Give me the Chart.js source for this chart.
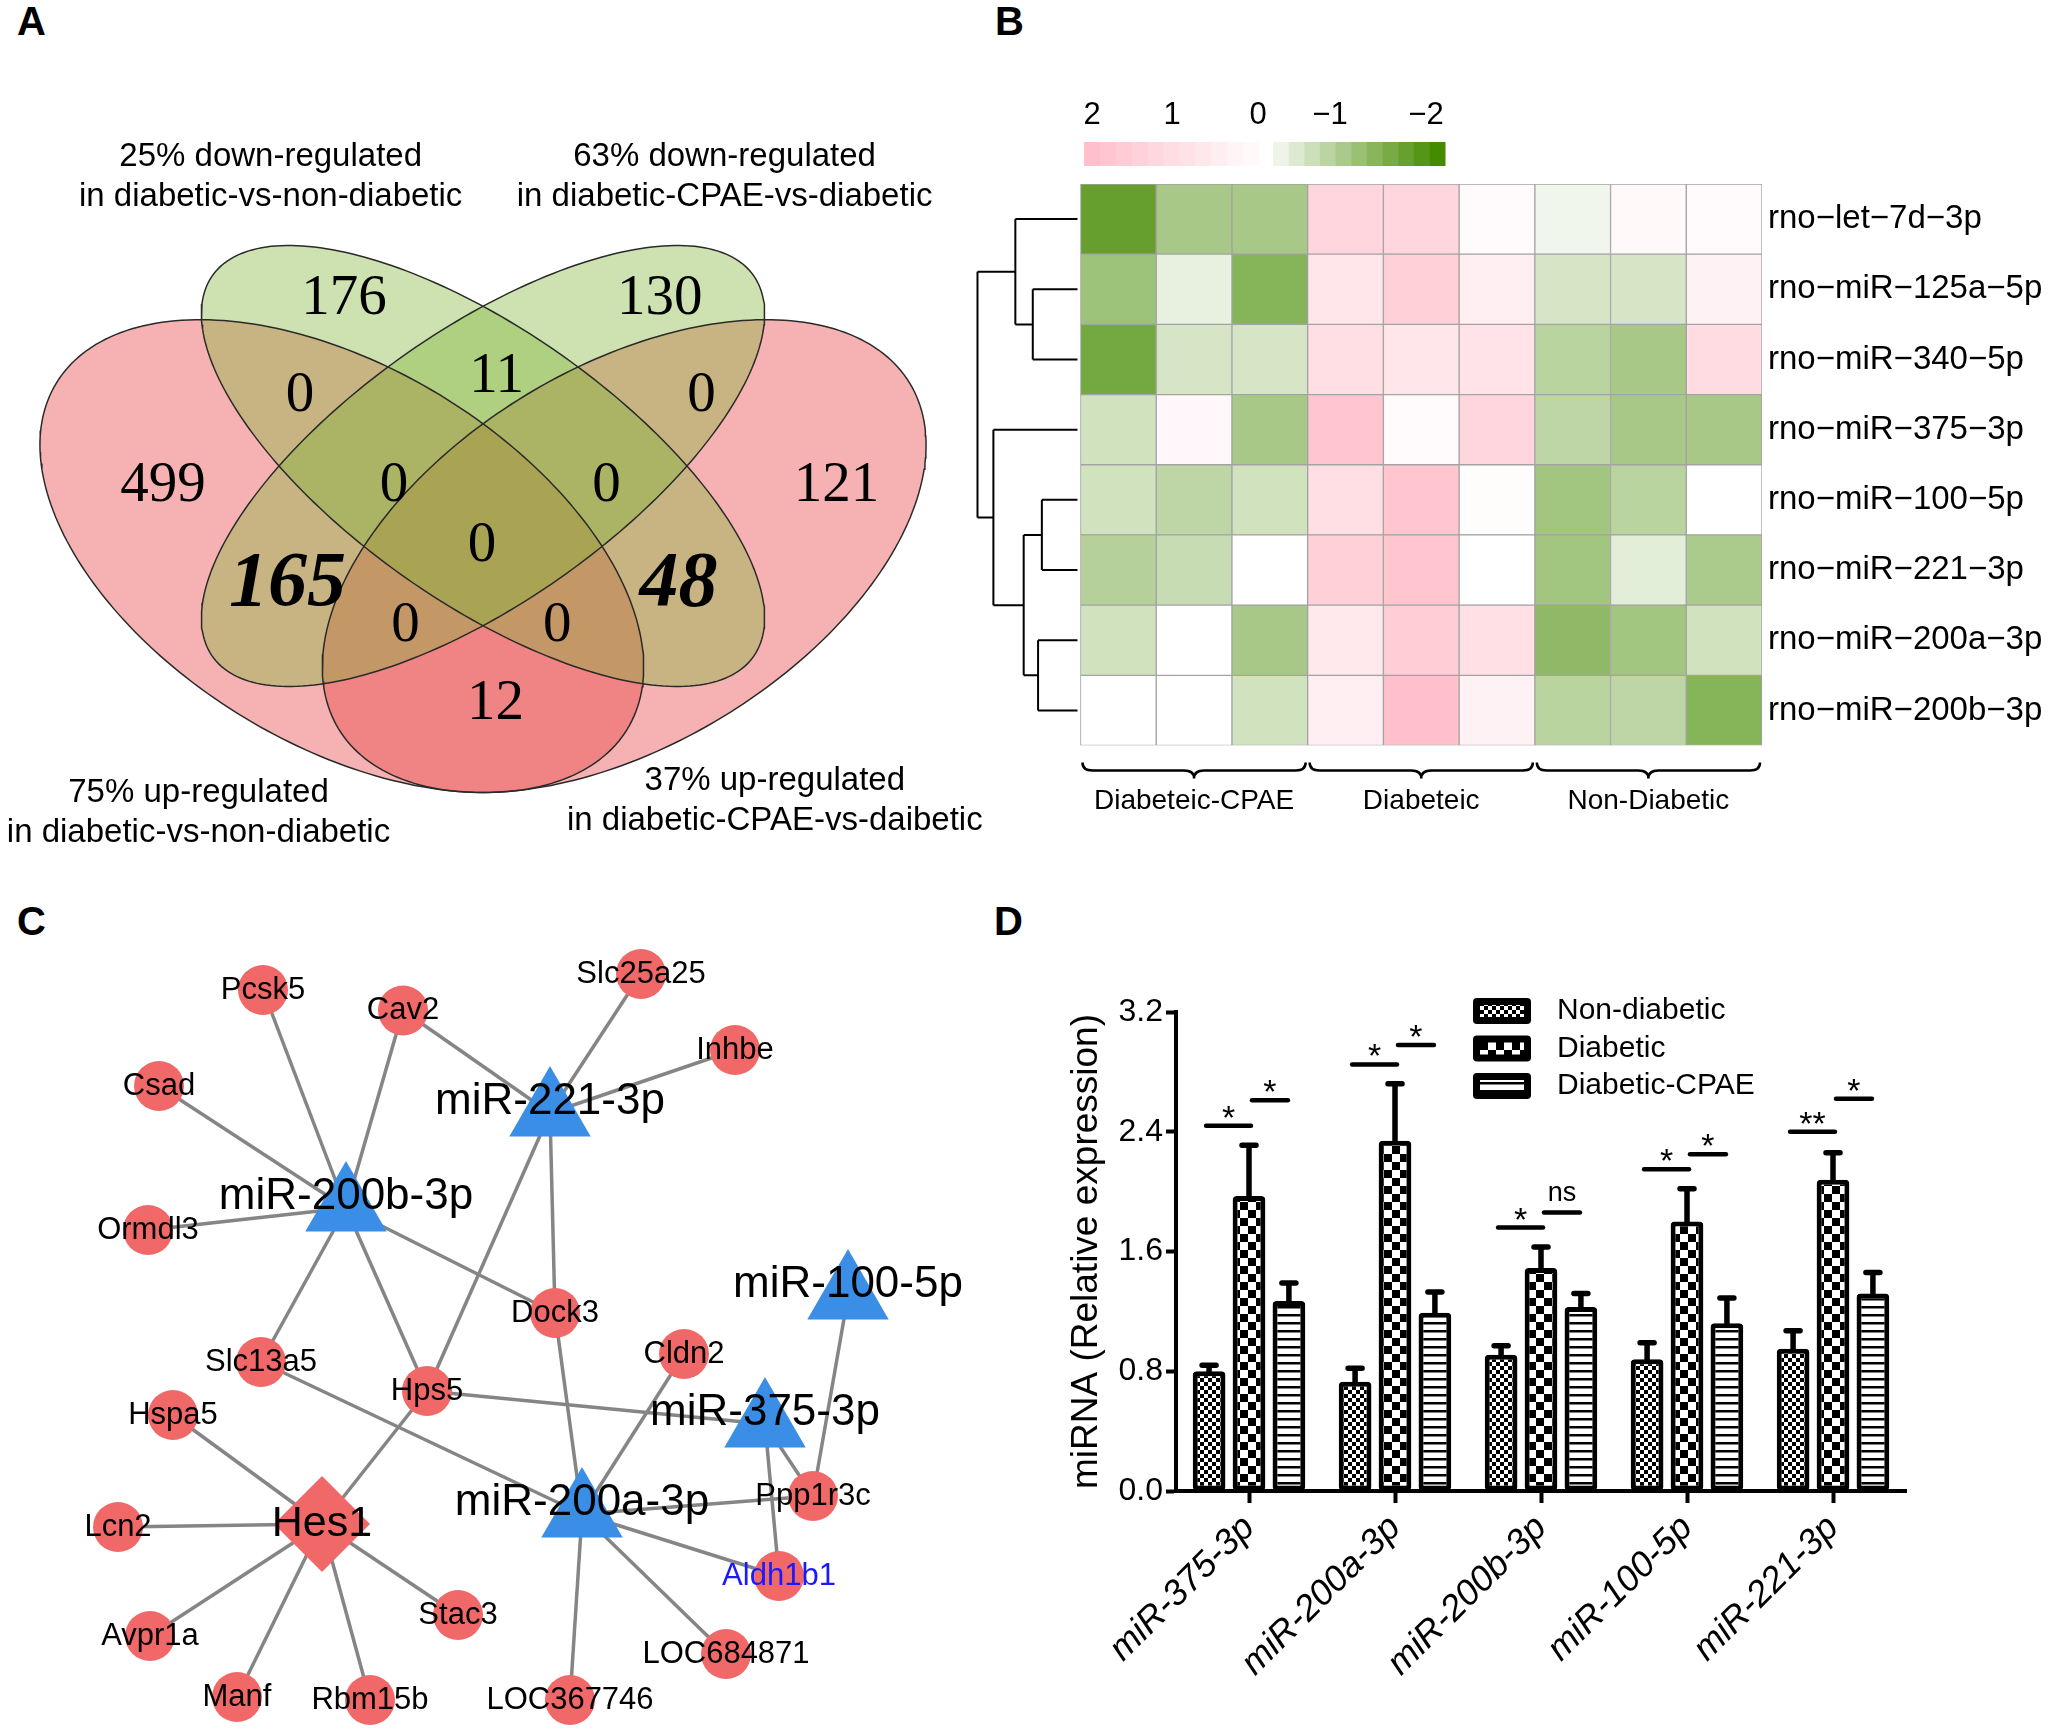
<!DOCTYPE html>
<html>
<head>
<meta charset="utf-8">
<title>miRNA figure</title>
<script src="https://cdn.jsdelivr.net/npm/chart.js@4/dist/chart.umd.min.js"></script>
<style>
  html, body { margin: 0; padding: 0; background: #fff; }
  body { width: 2052px; height: 1733px; position: relative; overflow: hidden; font-family: "Liberation Sans", Arial, sans-serif; }
  canvas { position: absolute; }
  .tag { position: absolute; font-size: 40px; font-weight: bold; line-height: 40px; }
</style>
</head>
<body>
<div class="tag" style="left:17px;top:1px">A</div>
<div class="tag" style="left:995px;top:1px">B</div>
<div class="tag" style="left:17px;top:901px">C</div>
<div class="tag" style="left:994px;top:901px">D</div>
<canvas id="venn" width="1000" height="840" style="left:0;top:60px"></canvas>
<canvas id="heat" width="1092" height="800" style="left:960px;top:60px"></canvas>
<canvas id="net" width="1000" height="813" style="left:0;top:920px"></canvas>
<canvas id="bars" width="1052" height="803" style="left:1000px;top:930px"></canvas>
<script>
const SANS = '"Liberation Sans", Arial, sans-serif';
const SERIF = '"Liberation Serif", "Times New Roman", serif';
Chart.defaults.font.family = SANS;
Chart.defaults.color = '#000';
Chart.defaults.animation = false;

// ---------- A: venn (A = up d-vs-nd, B = down d-vs-nd, C = down cpae-vs-d, D = up cpae-vs-d)
const vennRegions = ['A', 'B', 'C', 'D', 'AB', 'BC', 'CD', 'AD', 'ABC', 'BCD', 'AC', 'BD', 'ABCD', 'ACD', 'ABD'];
const vennCounts  = [499, 176, 130, 121, 0, 11, 0, 12, 0, 0, 165, 48, 0, 0, 0];
const vennBold = ['AC', 'BD'];
const vennTitles = [
  ['25% down-regulated', 'in diabetic-vs-non-diabetic'],
  ['63% down-regulated', 'in diabetic-CPAE-vs-diabetic'],
  ['75% up-regulated', 'in diabetic-vs-non-diabetic'],
  ['37% up-regulated', 'in diabetic-CPAE-vs-daibetic']
];

// ---------- B: heatmap
const heatRows = ['rno−let−7d−3p', 'rno−miR−125a−5p', 'rno−miR−340−5p', 'rno−miR−375−3p',
                  'rno−miR−100−5p', 'rno−miR−221−3p', 'rno−miR−200a−3p', 'rno−miR−200b−3p'];
const heatGroups = ['Diabeteic-CPAE', 'Diabeteic', 'Non-Diabetic'];
const heatValues = [
  [-1.65, -0.95, -0.95, 1.3, 1.3, 0.15, -0.15, 0.2, 0.15],
  [-1.05, -0.25, -1.3, 0.8, 1.5, 0.5, -0.45, -0.45, 0.4],
  [-1.5, -0.45, -0.45, 1.05, 0.8, 0.9, -0.75, -0.95, 1.1],
  [-0.5, 0.25, -0.95, 1.8, 0.15, 1.3, -0.7, -0.95, -0.95],
  [-0.5, -0.7, -0.5, 1.05, 1.8, 0.1, -1.0, -0.75, 0.0],
  [-0.8, -0.6, 0.0, 1.5, 1.8, 0.0, -1.0, -0.3, -0.9],
  [-0.5, 0.0, -0.95, 0.7, 1.6, 1.0, -1.2, -1.0, -0.5],
  [0.0, 0.0, -0.5, 0.5, 2.0, 0.4, -0.75, -0.7, -1.3]
];
// row clustering, hclust style: negative = leaf (1-based row), positive = earlier merge
const dendroMerges = [[-2, -3], [-1, 1], [-5, -6], [-7, -8], [3, 4], [-4, 5], [2, 6]];
const dendroHeights = [0.63, 0.86, 0.51, 0.56, 0.75, 1.15, 1.36];
const keyLabels = ['2', '1', '0', '−1', '−2'];

// ---------- C: network
const nodeNames = ['Pcsk5', 'Cav2', 'Slc25a25', 'Inhbe', 'Csad', 'miR-221-3p', 'miR-200b-3p', 'Ormdl3',
  'Dock3', 'miR-100-5p', 'Cldn2', 'Slc13a5', 'Hps5', 'miR-375-3p', 'Hspa5', 'Hes1', 'miR-200a-3p',
  'Ppp1r3c', 'Lcn2', 'Aldh1b1', 'Stac3', 'Avpr1a', 'LOC684871', 'Manf', 'Rbm15b', 'LOC367746'];
const nodeKind = ['gene', 'gene', 'gene', 'gene', 'gene', 'mirna', 'mirna', 'gene',
  'gene', 'mirna', 'gene', 'gene', 'gene', 'mirna', 'gene', 'hub', 'mirna',
  'gene', 'gene', 'gene', 'gene', 'gene', 'gene', 'gene', 'gene', 'gene'];
const nodeX = [26.3, 40.3, 64.1, 73.5, 15.9, 55.0, 34.6, 14.8, 55.5, 84.8, 68.4, 26.1, 42.7, 76.5, 17.3,
  32.2, 58.2, 81.3, 11.8, 77.9, 45.8, 15.0, 72.6, 23.7, 37.0, 57.0];
const nodeY = [99.0, 101.05, 97.4, 105.0, 108.6, 111.3, 120.8, 123.0, 131.3, 129.6, 135.4, 136.2, 139.1, 142.4,
  141.5, 152.4, 151.4, 149.6, 152.7, 157.6, 161.5, 163.6, 165.4, 169.7, 170.0, 170.0];
const edges = [
  ['miR-200b-3p', 'Pcsk5'], ['miR-200b-3p', 'Cav2'], ['miR-200b-3p', 'Csad'], ['miR-200b-3p', 'Ormdl3'],
  ['miR-200b-3p', 'Dock3'], ['miR-200b-3p', 'Slc13a5'], ['miR-200b-3p', 'Hps5'],
  ['miR-221-3p', 'Cav2'], ['miR-221-3p', 'Slc25a25'], ['miR-221-3p', 'Inhbe'], ['miR-221-3p', 'Dock3'], ['miR-221-3p', 'Hps5'],
  ['miR-200a-3p', 'Dock3'], ['miR-200a-3p', 'Slc13a5'], ['miR-200a-3p', 'Cldn2'], ['miR-200a-3p', 'Ppp1r3c'],
  ['miR-200a-3p', 'Aldh1b1'], ['miR-200a-3p', 'LOC684871'], ['miR-200a-3p', 'LOC367746'],
  ['miR-375-3p', 'Hps5'], ['miR-375-3p', 'Ppp1r3c'], ['miR-375-3p', 'Aldh1b1'],
  ['miR-100-5p', 'Ppp1r3c'],
  ['Hes1', 'Hps5'], ['Hes1', 'Hspa5'], ['Hes1', 'Lcn2'], ['Hes1', 'Avpr1a'], ['Hes1', 'Manf'], ['Hes1', 'Rbm15b'], ['Hes1', 'Stac3']
];

// ---------- D: qPCR bars
const mirnas = ['miR-375-3p', 'miR-200a-3p', 'miR-200b-3p', 'miR-100-5p', 'miR-221-3p'];
const nonDiabetic = [0.80, 0.73, 0.91, 0.88, 0.95];
const nonDiabeticSem = [0.04, 0.09, 0.06, 0.11, 0.12];
const diabetic = [1.97, 2.34, 1.49, 1.80, 2.08];
const diabeticSem = [0.34, 0.38, 0.14, 0.22, 0.18];
const diabeticCpae = [1.27, 1.19, 1.23, 1.12, 1.32];
const diabeticCpaeSem = [0.12, 0.14, 0.09, 0.17, 0.14];
const sigGroup = [0, 0, 1, 1, 2, 2, 3, 3, 4, 4];
const sigFrom  = [0, 1, 0, 1, 0, 1, 0, 1, 0, 1];
const sigLevel = [2.44, 2.61, 2.85, 2.98, 1.76, 1.86, 2.15, 2.25, 2.40, 2.62];
const sigMark  = ['*', '*', '*', '*', '*', 'ns', '*', '*', '**', '*'];

// ======================= A =======================
const PINK = 'rgba(232,62,62,0.4)', GREEN = 'rgba(131,183,58,0.4)';
const vennShapes = {
  A: { cx: 0.365, cy: 0.46, a: 0.35, b: 0.21, rot: -45, fill: PINK },
  B: { cx: 0.50, cy: 0.57, a: 0.35, b: 0.15, rot: -45, fill: GREEN },
  C: { cx: 0.50, cy: 0.57, a: 0.35, b: 0.15, rot: 45, fill: GREEN },
  D: { cx: 0.635, cy: 0.46, a: 0.35, b: 0.21, rot: 45, fill: PINK }
};
const vennLabelAt = {
  A: [0.194, 0.546], B: [0.367, 0.774], C: [0.669, 0.774], D: [0.838, 0.546],
  AB: [0.325, 0.655], BC: [0.513, 0.679], CD: [0.709, 0.655], AD: [0.512, 0.279],
  ABC: [0.415, 0.546], BCD: [0.618, 0.546], AC: [0.313, 0.425], BD: [0.687, 0.425],
  ABCD: [0.499, 0.472], ACD: [0.426, 0.375], ABD: [0.571, 0.375]
};
const vennTitleAt = [[0.297, 0.947], [0.731, 0.947], [0.228, 0.171], [0.779, 0.185]];

function ellipsePoints(s) {
  const pts = [], r = s.rot * Math.PI / 180;
  for (let k = 0; k <= 240; k++) {
    const t = k / 240 * 2 * Math.PI;
    const u = s.a * Math.cos(t), v = s.b * Math.sin(t);
    pts.push({ x: s.cx + u * Math.cos(r) - v * Math.sin(r), y: s.cy + u * Math.sin(r) + v * Math.cos(r) });
  }
  return pts;
}

const vennText = {
  id: 'vennText',
  afterDatasetsDraw(chart) {
    const { ctx, scales: { x, y } } = chart;
    ctx.save();
    ctx.fillStyle = '#000';
    ctx.textAlign = 'center';
    ctx.textBaseline = 'middle';
    vennRegions.forEach((r, i) => {
      const p = vennLabelAt[r];
      ctx.font = vennBold.includes(r) ? `italic bold 78px ${SERIF}` : `57px ${SERIF}`;
      ctx.fillText(String(vennCounts[i]), x.getPixelForValue(p[0]), y.getPixelForValue(p[1]));
    });
    ctx.font = `33px ${SANS}`;
    vennTitles.forEach((t, i) => {
      const px = x.getPixelForValue(vennTitleAt[i][0]), py = y.getPixelForValue(vennTitleAt[i][1]);
      ctx.fillText(t[0], px, py);
      ctx.fillText(t[1], px, py + 40);
    });
    ctx.restore();
  }
};

new Chart(document.getElementById('venn'), {
  type: 'scatter',
  data: {
    datasets: ['B', 'C', 'A', 'D'].map(k => ({
      data: ellipsePoints(vennShapes[k]),
      showLine: true, pointRadius: 0, borderColor: '#2a2a2a', borderWidth: 1.5,
      backgroundColor: vennShapes[k].fill, fill: 'shape'
    }))
  },
  options: {
    responsive: false, events: [],
    layout: { padding: 0, autoPadding: false },
    plugins: { legend: { display: false }, tooltip: { enabled: false }, filler: { drawTime: 'beforeDatasetsDraw' } },
    scales: {
      x: { type: 'linear', min: 0.0382, max: 0.9943, display: false },
      y: { type: 'linear', min: 0.0401, max: 1.0657, display: false }
    }
  },
  plugins: [vennText]
});

// ======================= B =======================
function heatColor(v) {
  const t = Math.min(Math.abs(v) / 2, 1);
  const end = v >= 0 ? [255, 192, 203] : [69, 139, 0];
  const c = end.map(e => Math.round(255 + (e - 255) * t));
  return `rgb(${c[0]},${c[1]},${c[2]})`;
}

const heatExtras = {
  id: 'heatExtras',
  afterDatasetsDraw(chart) {
    const { ctx, chartArea: area, scales: { x, y } } = chart;
    ctx.save();
    // dendrogram
    ctx.strokeStyle = '#000';
    ctx.lineWidth = 2;
    const pos = [], hgt = [];
    const rowOf = id => id < 0 ? -id - 1 : pos[id - 1];
    const hOf = id => id < 0 ? 0 : hgt[id - 1];
    dendroMerges.forEach((m, k) => {
      const h = dendroHeights[k];
      const px = x.getPixelForValue(-h);
      ctx.beginPath();
      m.forEach(c => {
        const cy = y.getPixelForValue(rowOf(c));
        const cx = c < 0 ? x.getPixelForValue(0) - 3 : x.getPixelForValue(-hOf(c));
        ctx.moveTo(cx, cy);
        ctx.lineTo(px, cy);
      });
      ctx.moveTo(px, y.getPixelForValue(rowOf(m[0])));
      ctx.lineTo(px, y.getPixelForValue(rowOf(m[1])));
      ctx.stroke();
      pos.push((rowOf(m[0]) + rowOf(m[1])) / 2);
      hgt.push(h);
    });

    // colour key
    const keyTop = area.top - 42, keyH = 24, n = 11;
    const pinkL = area.left + 124, pinkR = area.left + 299;
    const greenL = area.left + 313, greenR = area.left + 485;
    for (let i = 0; i < n; i++) {
      const w1 = (pinkR - pinkL) / n, w2 = (greenR - greenL) / n;
      ctx.fillStyle = heatColor(2 - i * 2 / n);
      ctx.fillRect(pinkL + i * w1, keyTop, w1 + 0.5, keyH);
      ctx.fillStyle = heatColor(-(i + 1) * 2 / n);
      ctx.fillRect(greenL + i * w2, keyTop, w2 + 0.5, keyH);
    }
    ctx.fillStyle = '#000';
    ctx.font = `31px ${SANS}`;
    ctx.textAlign = 'center';
    ctx.textBaseline = 'middle';
    const keyX = [132, 212, 298, 370, 466];
    keyLabels.forEach((t, i) => ctx.fillText(t, area.left + keyX[i], keyTop - 27));

    // group braces
    ctx.lineWidth = 2.5;
    ctx.font = `28px ${SANS}`;
    heatGroups.forEach((g, i) => {
      const x0 = x.getPixelForValue(i * 3) + 2, x1 = x.getPixelForValue(i * 3 + 3) - 2;
      const xm = (x0 + x1) / 2, yt = area.bottom + 17, ym = yt + 8, yb = yt + 16, r = 10;
      ctx.beginPath();
      ctx.moveTo(x0, yt);
      ctx.quadraticCurveTo(x0, ym, x0 + r, ym);
      ctx.lineTo(xm - r, ym);
      ctx.quadraticCurveTo(xm, ym, xm, yb);
      ctx.quadraticCurveTo(xm, ym, xm + r, ym);
      ctx.lineTo(x1 - r, ym);
      ctx.quadraticCurveTo(x1, ym, x1, yt);
      ctx.stroke();
      ctx.fillText(g, xm, area.bottom + 56);
    });
    ctx.restore();
  }
};

new Chart(document.getElementById('heat'), {
  type: 'bar',
  data: {
    labels: heatRows,
    datasets: heatValues[0].map((_, c) => ({
      data: heatRows.map(() => [c, c + 1]),
      backgroundColor: heatValues.map(r => heatColor(r[c])),
      borderColor: '#a3a3a3', borderWidth: 1, borderSkipped: false,
      grouped: false, barPercentage: 1, categoryPercentage: 1
    }))
  },
  options: {
    indexAxis: 'y', responsive: false, events: [],
    layout: { padding: { top: 124, bottom: 114.5, left: 0, right: 0 } },
    plugins: { legend: { display: false }, tooltip: { enabled: false } },
    scales: {
      x: { type: 'linear', min: -1.591, max: 9, display: false },
      y: {
        type: 'category', position: 'right',
        grid: { display: false, drawTicks: false }, border: { display: false },
        ticks: { font: { size: 33 }, padding: 6, color: '#000' },
        afterFit(s) { s.width = 290; }
      }
    }
  },
  plugins: [heatExtras]
});

// ======================= C =======================
const nodeStyle = {
  gene:  { shape: 'circle', r: 25, color: '#f06868', font: 31 },
  mirna: { shape: 'triangle', r: 47, color: '#3a8ee6', font: 44 },
  hub:   { shape: 'rectRot', r: 48, color: '#f06868', font: 43 }
};
const idx = name => nodeNames.indexOf(name);

const netLabels = {
  id: 'netLabels',
  afterDatasetsDraw(chart) {
    const { ctx } = chart;
    const pts = chart.getDatasetMeta(0).data;
    ctx.save();
    ctx.textAlign = 'center';
    ctx.textBaseline = 'middle';
    nodeNames.forEach((n, i) => {
      const st = nodeStyle[nodeKind[i]];
      ctx.font = `${st.font}px ${SANS}`;
      ctx.fillStyle = n === 'Aldh1b1' ? '#1a1aff' : '#000';
      ctx.fillText(n, pts[i].x, pts[i].y + (nodeKind[i] === 'mirna' ? -11 : 0));
    });
    ctx.restore();
  }
};

new Chart(document.getElementById('net'), {
  type: 'scatter',
  data: {
    datasets: [{
      data: nodeNames.map((_, i) => ({ x: nodeX[i], y: nodeY[i] })),
      pointStyle: nodeKind.map(k => nodeStyle[k].shape),
      pointRadius: nodeKind.map(k => nodeStyle[k].r),
      pointBackgroundColor: nodeKind.map(k => nodeStyle[k].color),
      pointBorderWidth: 0, clip: false
    }].concat(edges.map(([a, b]) => ({
      data: [{ x: nodeX[idx(a)], y: nodeY[idx(a)] }, { x: nodeX[idx(b)], y: nodeY[idx(b)] }],
      showLine: true, pointRadius: 0, borderColor: '#858585', borderWidth: 3.5, clip: false
    })))
  },
  options: {
    responsive: false, events: [],
    layout: { padding: 0, autoPadding: false },
    plugins: { legend: { display: false }, tooltip: { enabled: false } },
    scales: {
      x: { type: 'linear', min: 0, max: 100, display: false },
      y: { type: 'linear', min: 92, max: 173.3, reverse: true, display: false }
    }
  },
  plugins: [netLabels]
});

// ======================= D =======================
function makePattern(kind) {
  const c = document.createElement('canvas');
  const g = c.getContext('2d');
  if (kind === 'fine' || kind === 'check') {
    const s = kind === 'fine' ? 4 : 8;
    c.width = c.height = 2 * s;
    g.fillStyle = '#fff'; g.fillRect(0, 0, 2 * s, 2 * s);
    g.fillStyle = '#000'; g.fillRect(0, 0, s, s); g.fillRect(s, s, s, s);
  } else {
    c.width = 8; c.height = 8;
    g.fillStyle = '#fff'; g.fillRect(0, 0, 8, 8);
    g.fillStyle = '#000'; g.fillRect(0, 0, 8, 2.5);
  }
  return g.createPattern(c, 'repeat');
}

const barSems = [nonDiabeticSem, diabeticSem, diabeticCpaeSem];

const barExtras = {
  id: 'barExtras',
  afterDatasetsDraw(chart) {
    const { ctx, chartArea: area, scales: { y } } = chart;
    ctx.save();
    ctx.strokeStyle = '#000';
    ctx.lineCap = 'round';
    // error bars (upper)
    ctx.lineWidth = 5.5;
    chart.data.datasets.forEach((ds, i) => {
      chart.getDatasetMeta(i).data.forEach((bar, j) => {
        const top = y.getPixelForValue(ds.data[j] + barSems[i][j]);
        ctx.beginPath();
        ctx.moveTo(bar.x, bar.y);
        ctx.lineTo(bar.x, top);
        ctx.moveTo(bar.x - 7, top);
        ctx.lineTo(bar.x + 7, top);
        ctx.stroke();
      });
    });
    // significance lines
    ctx.lineWidth = 4.5;
    ctx.fillStyle = '#000';
    ctx.textAlign = 'center';
    sigGroup.forEach((g, k) => {
      const b0 = chart.getDatasetMeta(sigFrom[k]).data[g];
      const b1 = chart.getDatasetMeta(sigFrom[k] + 1).data[g];
      const x0 = sigFrom[k] === 0 ? b0.x - 3 : b0.x + 3;
      const x1 = sigFrom[k] === 0 ? b1.x + 2 : b1.x - 1;
      const ly = y.getPixelForValue(sigLevel[k]);
      ctx.beginPath();
      ctx.moveTo(x0, ly);
      ctx.lineTo(x1, ly);
      ctx.stroke();
      const xm = (x0 + x1) / 2;
      ctx.textBaseline = 'alphabetic';
      if (sigMark[k] === 'ns') {
        ctx.font = `27px ${SANS}`;
        ctx.fillText('ns', xm, ly - 12);
      } else {
        ctx.font = `34px ${SANS}`;
        ctx.fillText(sigMark[k], xm, ly + 3);
      }
    });
    // legend
    ctx.textAlign = 'left';
    ctx.textBaseline = 'middle';
    ctx.font = `30px ${SANS}`;
    chart.data.datasets.forEach((ds, i) => {
      const bx = area.left + 297, cy = area.top - 1 + i * 37.5;
      ctx.fillStyle = '#000';
      ctx.beginPath();
      ctx.roundRect(bx, cy - 13, 58, 26, 4);
      ctx.fill();
      ctx.fillStyle = ds.backgroundColor;
      ctx.fillRect(bx + 7, cy - 6, 44, 12);
      ctx.fillStyle = '#000';
      ctx.fillText(ds.label, bx + 84, cy);
    });
    ctx.restore();
  }
};

const barCommon = {
  borderColor: '#000', borderWidth: 5, borderRadius: 4, borderSkipped: false,
  categoryPercentage: 0.82, barPercentage: 0.82
};

new Chart(document.getElementById('bars'), {
  type: 'bar',
  data: {
    labels: mirnas,
    datasets: [
      Object.assign({ label: 'Non-diabetic', data: nonDiabetic, backgroundColor: makePattern('fine') }, barCommon),
      Object.assign({ label: 'Diabetic', data: diabetic, backgroundColor: makePattern('check') }, barCommon),
      Object.assign({ label: 'Diabetic-CPAE', data: diabeticCpae, backgroundColor: makePattern('stripe') }, barCommon)
    ]
  },
  options: {
    responsive: false, events: [],
    layout: { padding: { top: 82, right: 146, left: 0, bottom: 0 } },
    plugins: { legend: { display: false }, tooltip: { enabled: false } },
    scales: {
      y: {
        min: 0, max: 3.2,
        ticks: { stepSize: 0.8, callback: v => v.toFixed(1), font: { size: 32 }, color: '#000', padding: 3 },
        grid: { drawOnChartArea: false, tickLength: 10, tickWidth: 4, tickColor: '#000', color: '#000' },
        border: { color: '#000', width: 4 },
        title: { display: true, text: 'miRNA (Relative expression)', font: { size: 37, lineHeight: 1.2 }, color: '#000', padding: { top: 65, bottom: 0 } },
        afterFit(s) { s.width = 176; }
      },
      x: {
        grid: { drawOnChartArea: false, offset: false, tickLength: 12, tickWidth: 4, tickColor: '#000', color: '#000' },
        border: { color: '#000', width: 4 },
        ticks: { minRotation: 45, maxRotation: 45, autoSkip: false, font: { size: 36, style: 'italic' }, color: '#000', padding: 4 },
        afterFit(s) { s.height = 242; }
      }
    }
  },
  plugins: [barExtras]
});
</script>
</body>
</html>
